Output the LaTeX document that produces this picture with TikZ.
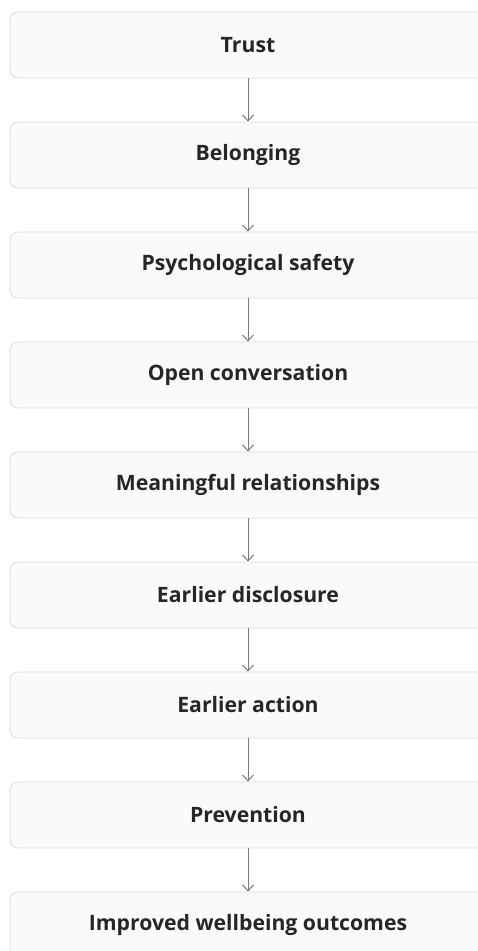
\documentclass[tikz,border=0pt]{standalone}
\usepackage{fontspec}
\setmainfont{Open Sans}
\usetikzlibrary{arrows.meta}

\definecolor{boxfill}{HTML}{FAFAFA}
\definecolor{boxline}{HTML}{DDDDDD}
\definecolor{arrowgray}{HTML}{7A7A7A}

\tikzset{
  stepbox/.style={draw=boxline, fill=boxfill, rounded corners=8pt, line width=0.8pt,
    minimum width=476pt, minimum height=66pt, inner sep=0pt,
    font=\fontsize{21.2}{25}\selectfont\bfseries, text=black!85},
  flow/.style={draw=arrowgray, line width=1pt, -{Straight Barb[length=6pt,width=11pt]}}
}

\begin{document}
\begin{tikzpicture}[x=1pt,y=-1pt]
\useasboundingbox (0,0) rectangle (478,951);

  \foreach \txt [count = \n, evaluate = \n as \yy using {45+110*(\n-1)}] in
  {Trust, Belonging, Psychological safety, Open conversation,
   Meaningful relationships, Earlier disclosure, Earlier action,
   Prevention, Improved wellbeing outcomes}{
    \node[stepbox] (s\n) at (248,\yy) {\txt};
  }

  \foreach \a [count = \b from 2] in {1,...,8}{
    \draw[flow] (s\a.south) -- (s\b.north);
  }
\end{tikzpicture}
\end{document}
